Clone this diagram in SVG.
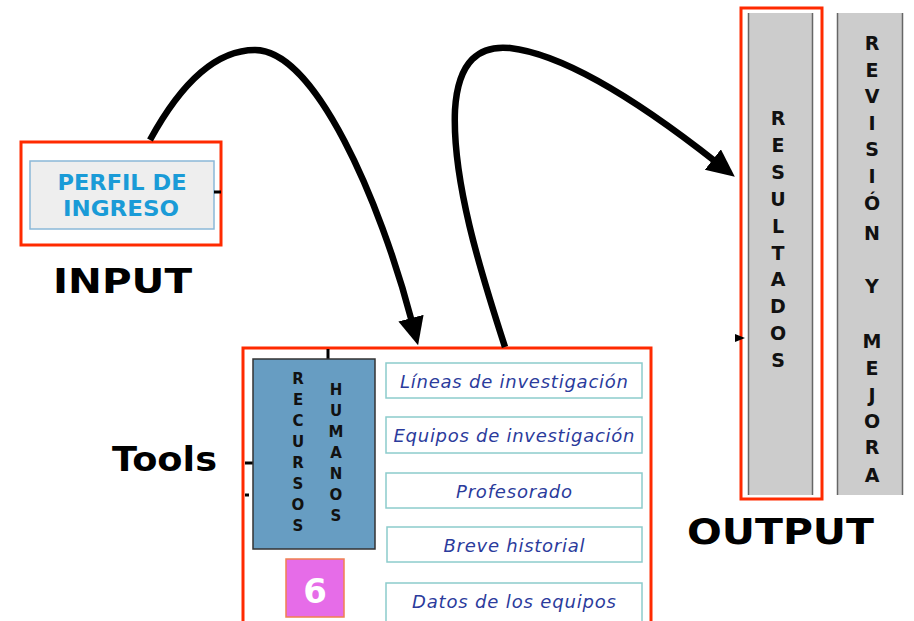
<svg xmlns="http://www.w3.org/2000/svg" width="914" height="621" viewBox="0 0 914 621">
<style>
.red{fill:none;stroke:#ff2a00;stroke-width:3}
.big{font-family:"DejaVu Sans",Verdana,sans-serif;font-weight:bold;fill:#000}
.vl{font-family:"DejaVu Sans",Verdana,sans-serif;font-weight:bold;fill:#111;text-anchor:middle}
.item{fill:#fff;stroke:#8ccccc;stroke-width:1.5}
.it{font-family:"DejaVu Sans",Verdana,sans-serif;font-style:italic;font-size:18px;fill:#2b3b9c;text-anchor:middle}
.conn{fill:none;stroke:#000;stroke-width:6.5;stroke-linecap:butt}
.stub{stroke:#000;stroke-width:3}
</style>
<defs>
<marker id="ah" markerUnits="userSpaceOnUse" markerWidth="30" markerHeight="30" refX="4" refY="13" orient="auto">
<path d="M0,0 L28,13 L0,26 Z" fill="#000"/>
</marker>
</defs>

<g id="input">
<rect class="red" x="21" y="142" width="200" height="103"/>
<rect x="30" y="161" width="184" height="68" fill="#eeeeee" stroke="#8ab8d8" stroke-width="1.5"/>
<text x="122" y="190" font-family="DejaVu Sans,Verdana,sans-serif" font-weight="bold" font-size="21" fill="#1a9bd7" text-anchor="middle" textLength="129" lengthAdjust="spacingAndGlyphs">PERFIL DE</text>
<text x="121" y="216" font-family="DejaVu Sans,Verdana,sans-serif" font-weight="bold" font-size="21" fill="#1a9bd7" text-anchor="middle" textLength="116" lengthAdjust="spacingAndGlyphs">INGRESO</text>
<line class="stub" x1="214" y1="192" x2="221" y2="192"/>
</g>
<text id="label-input" class="big" x="53" y="293" font-size="34" textLength="139" lengthAdjust="spacingAndGlyphs">INPUT</text>
<text id="label-tools" class="big" x="112" y="471" font-size="33" textLength="105" lengthAdjust="spacingAndGlyphs">Tools</text>
<text id="label-output" class="big" x="687" y="544" font-size="35" textLength="187" lengthAdjust="spacingAndGlyphs">OUTPUT</text>

<g id="tools">
<rect class="red" x="243" y="348" width="408" height="290"/>
<line class="stub" x1="245" y1="463" x2="253" y2="463"/>
<line class="stub" x1="245" y1="495" x2="249" y2="495"/>
<line class="stub" x1="328" y1="349" x2="328" y2="360"/>
<g id="recursos-humanos">
<rect x="253" y="359" width="122" height="190" fill="#679dc2" stroke="#333" stroke-width="1.5"/>
<g class="vl" font-size="15">
<text x="298" y="384">R</text><text x="298" y="405">E</text><text x="298" y="426">C</text><text x="298" y="447">U</text><text x="298" y="468">R</text><text x="298" y="489">S</text><text x="298" y="510">O</text><text x="298" y="531">S</text>
<text x="336" y="395">H</text><text x="336" y="416">U</text><text x="336" y="437">M</text><text x="336" y="458">A</text><text x="336" y="479">N</text><text x="336" y="500">O</text><text x="336" y="521">S</text>
</g>
</g>
<g id="badge-6">
<rect x="286" y="559" width="58" height="58" fill="#e66ce8" stroke="#f08050" stroke-width="1.5"/>
<text x="315" y="603" font-family="DejaVu Sans,Verdana,sans-serif" font-weight="bold" font-size="34" fill="#fff" text-anchor="middle">6</text>
</g>
<g id="item-lineas"><rect class="item" x="386" y="363" width="256" height="35"/><text class="it" x="514" y="388" textLength="228">Líneas de investigación</text></g>
<g id="item-equipos"><rect class="item" x="386" y="417" width="256" height="36"/><text class="it" x="514" y="442" textLength="241">Equipos de investigación</text></g>
<g id="item-profesorado"><rect class="item" x="386" y="473" width="256" height="35"/><text class="it" x="514" y="498" textLength="116">Profesorado</text></g>
<g id="item-historial"><rect class="item" x="387" y="527" width="255" height="35"/><text class="it" x="514" y="552" textLength="141">Breve historial</text></g>
<g id="item-datos"><rect class="item" x="386" y="583" width="256" height="40"/><text class="it" x="514" y="608" textLength="204">Datos de los equipos</text></g>
</g>

<g id="resultados">
<rect x="748" y="13" width="65" height="482" fill="#cccccc"/>
<line x1="748.5" y1="13" x2="748.5" y2="495" stroke="#666" stroke-width="1.5"/>
<line x1="812.5" y1="13" x2="812.5" y2="495" stroke="#666" stroke-width="1.5"/>
<rect class="red" x="741" y="8" width="81" height="491"/>
<g class="vl" font-size="19">
<text x="778" y="125">R</text><text x="778" y="152">E</text><text x="778" y="179">S</text><text x="778" y="206">U</text><text x="778" y="233">L</text><text x="778" y="260">T</text><text x="778" y="286">A</text><text x="778" y="313">D</text><text x="778" y="340">O</text><text x="778" y="367">S</text>
</g>
<path d="M735,334 L745,338 L735,342 Z" fill="#000"/>
</g>

<g id="revision">
<rect x="837" y="13" width="66" height="482" fill="#cccccc"/>
<line x1="837.5" y1="13" x2="837.5" y2="495" stroke="#666" stroke-width="1.5"/>
<line x1="902.5" y1="13" x2="902.5" y2="495" stroke="#666" stroke-width="1.5"/>
<g class="vl" font-size="19">
<text x="872" y="50">R</text><text x="872" y="77">E</text><text x="872" y="103">V</text><text x="872" y="130">I</text><text x="872" y="156">S</text><text x="872" y="183">I</text><text x="872" y="210">Ó</text><text x="872" y="240">N</text><text x="872" y="293">Y</text><text x="872" y="348">M</text><text x="872" y="375">E</text><text x="872" y="402">J</text><text x="872" y="428">O</text><text x="872" y="454">R</text><text x="872" y="482">A</text>
</g>
</g>

<g id="connectors">
<path class="conn" d="M150,140 C180,85 215,50 255,50 C315,50 380,200 412,322" marker-end="url(#ah)"/>
<path class="conn" d="M505,347 C480,270 452,180 455,110 C458,60 480,45 510,48 C570,55 650,110 716,162" marker-end="url(#ah)"/>
</g>
</svg>
